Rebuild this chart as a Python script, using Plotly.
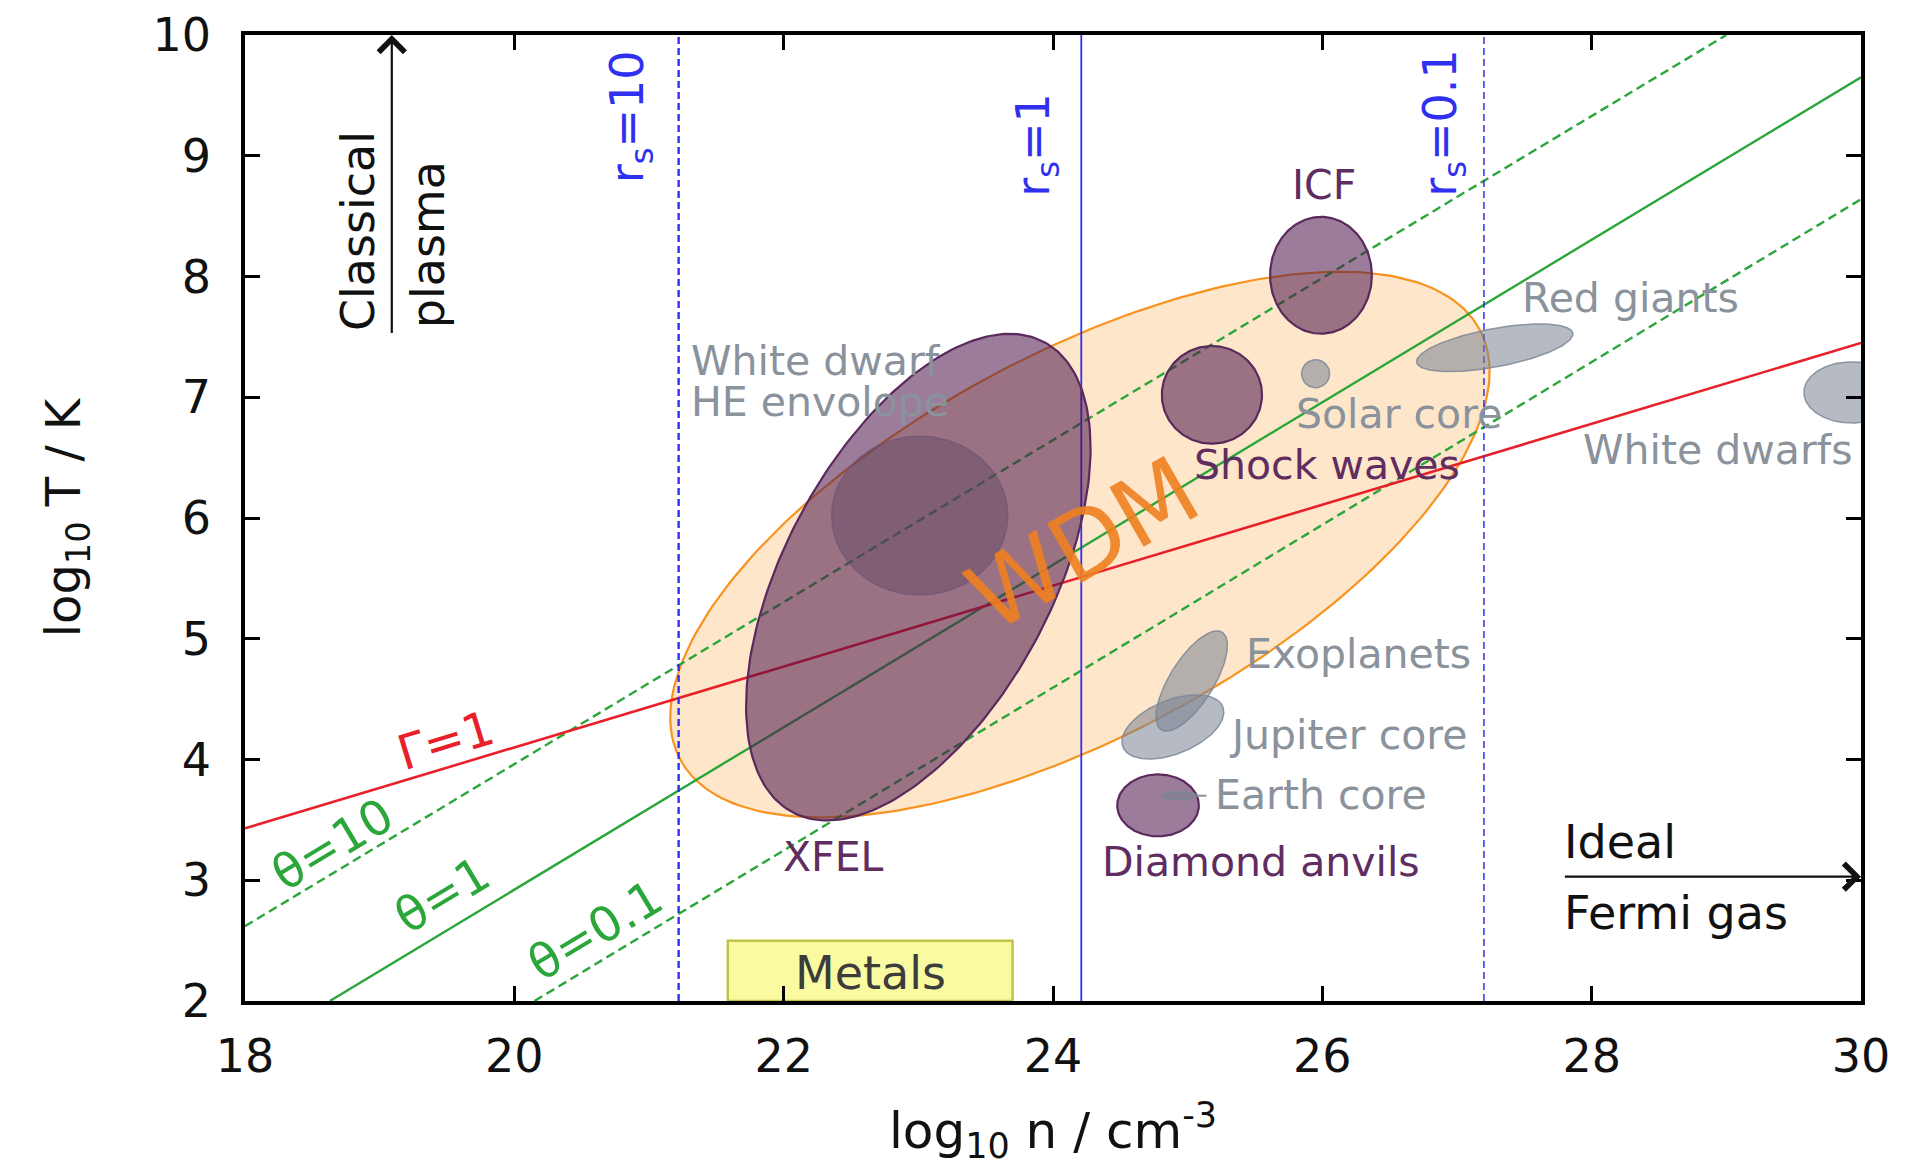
import numpy as np
import plotly.graph_objects as go

# ---------------- data ----------------
x_ticks = [18, 20, 22, 24, 26, 28, 30]
y_ticks = [2, 3, 4, 5, 6, 7, 8, 9, 10]

# straight reference lines (end points in log10 n, log10 T)
gamma1_n = [18.0, 30.0]
gamma1_T = [3.43, 7.45]
theta10_n = [18.0, 29.0]
theta10_T = [2.62, 10.0]
theta1_n = [18.63, 30.0]
theta1_T = [2.0, 9.65]
theta01_n = [20.15, 30.0]
theta01_T = [2.0, 8.64]

# Wigner-Seitz radius lines
rs_labels = ["10", "1", "0.1"]
rs_n = [21.22, 24.21, 27.20]

# regions (ellipses): centre, semi-axes (in x-axis units, screen-true), tilt (deg)
region_names = ["WDM", "XFEL", "White dwarf HE envelope", "Shock waves", "ICF",
                "Solar core", "Red giants", "White dwarfs", "Exoplanets",
                "Jupiter core", "Diamond anvils", "Earth core"]
region_n = [24.20, 23.00, 23.01, 25.18, 25.99, 25.95, 27.28, 29.93, 25.03, 24.89, 24.78, 24.94]
region_T = [5.78, 5.51, 6.02, 7.02, 8.01, 7.195, 7.41, 7.04, 4.65, 4.27, 3.62, 3.70]
region_a = [3.37, 1.98, 0.654, 0.372, 0.378, 0.104, 0.59, 0.354, 0.427, 0.40, 0.303, 0.13]
region_b = [1.415, 0.99, 0.59, 0.363, 0.434, 0.104, 0.142, 0.227, 0.163, 0.20, 0.23, 0.03]
region_tilt = [28.3, 61.8, 0, 0, 0, 0, 10.6, 0, 58, 22, 0, 0]
region_kind = ["wdm", "exp", "wdhe", "exp", "exp", "astro", "astro", "astro",
               "astro", "astro", "exp", "astro"]

# Metals box
metals_n = [21.585, 23.70]
metals_T = [2.0, 2.5]

# text labels
label_text = ["ICF", "Red giants", "Solar core", "Shock waves", "White dwarfs",
              "Exoplanets", "Jupiter core", "Earth core", "Diamond anvils", "XFEL",
              "White dwarf", "HE envolope"]
label_n = [26.01, 27.47, 25.79, 25.03, 27.92, 25.42, 25.29, 25.19, 24.35, 21.98, 21.295, 21.295]
label_T = [8.76, 7.82, 6.86, 6.44, 6.56, 4.87, 4.20, 3.71, 3.15, 3.19, 7.30, 6.96]
label_kind = ["exp", "astro", "astro", "exp", "astro", "astro", "astro", "astro",
              "exp", "exp", "astro", "astro"]

# ---------------- layout geometry ----------------
W, H = 1916, 1174
ML, MR, MT, MB = 237, 63, 27, 181
PX_X = (W - ML - MR) / (x_ticks[-1] - x_ticks[0])
PX_Y = (H - MT - MB) / (y_ticks[-1] - y_ticks[0])
FONT = "DejaVu Sans"

STYLE = {
    "wdm": dict(fill="rgba(252,200,140,0.45)", line="#f7931e", lw=2.2),
    "exp": dict(fill="rgba(73,19,73,0.55)", line="#5a2a5c", lw=2.2),
    "wdhe": dict(fill="rgba(95,70,95,0.45)", line="rgba(110,80,120,0.6)", lw=1.5),
    "astro": dict(fill="rgba(120,130,145,0.55)", line="rgba(125,135,150,0.85)", lw=1.5),
}
TXT = {"exp": "#5f2d5f", "astro": "#8a929c"}


def ellipse(cx, cy, a, b, tilt, npts=241):
    t = np.linspace(0, 2 * np.pi, npts)
    ph = np.radians(tilt)
    dx = a * np.cos(t) * np.cos(ph) - b * np.sin(t) * np.sin(ph)
    dy = a * np.cos(t) * np.sin(ph) + b * np.sin(t) * np.cos(ph)
    return cx + dx, cy + dy * PX_X / PX_Y


fig = go.Figure()


def add_region(i):
    st = STYLE[region_kind[i]]
    ex, ey = ellipse(region_n[i], region_T[i], region_a[i], region_b[i], region_tilt[i])
    fig.add_trace(go.Scatter(x=ex, y=ey, mode="lines", fill="toself",
                             fillcolor=st["fill"], line=dict(color=st["line"], width=st["lw"]),
                             hoverinfo="skip", showlegend=False, name=region_names[i]))


# WDM first (under the lines)
add_region(0)

# Metals box
fig.add_trace(go.Scatter(x=[metals_n[0], metals_n[1], metals_n[1], metals_n[0], metals_n[0]],
                         y=[metals_T[0], metals_T[0], metals_T[1], metals_T[1], metals_T[0]],
                         mode="lines", fill="toself", fillcolor="#fafaa0",
                         line=dict(color="#c3c34a", width=2.5), hoverinfo="skip", showlegend=False))

# lines
GREEN = "#2aa63a"
DASH = "9px,5px"
fig.add_trace(go.Scatter(x=theta10_n, y=theta10_T, mode="lines",
                         line=dict(color=GREEN, width=2.4, dash=DASH), showlegend=False))
fig.add_trace(go.Scatter(x=theta1_n, y=theta1_T, mode="lines",
                         line=dict(color=GREEN, width=2.4), showlegend=False))
fig.add_trace(go.Scatter(x=theta01_n, y=theta01_T, mode="lines",
                         line=dict(color=GREEN, width=2.4, dash=DASH), showlegend=False))
fig.add_trace(go.Scatter(x=gamma1_n, y=gamma1_T, mode="lines",
                         line=dict(color="#e8202a", width=2.6), showlegend=False))

rs_style = [dict(dash="7px,4px", width=2.4), dict(dash="solid", width=1.8), dict(dash="7px,4px", width=1.5)]
for xv, st in zip(rs_n, rs_style):
    fig.add_trace(go.Scatter(x=[xv, xv], y=[y_ticks[0], y_ticks[-1]], mode="lines",
                             line=dict(color="#3030f0", **st), showlegend=False))

# other regions on top
for i in range(1, len(region_names)):
    add_region(i)

# Earth core pointer
ie = region_names.index("Earth core")
fig.add_trace(go.Scatter(x=[region_n[ie] + region_a[ie], label_n[label_text.index("Earth core")] - 0.05],
                         y=[region_T[ie], region_T[ie]], mode="lines",
                         line=dict(color="#8a929c", width=2), showlegend=False))

ann = []
# region labels
for t, xv, yv, k in zip(label_text, label_n, label_T, label_kind):
    ann.append(dict(x=xv, y=yv, text=t, showarrow=False, xanchor="center" if t == "ICF" else "left",
                    yanchor="middle", font=dict(family=FONT, size=41, color=TXT[k])))

ann.append(dict(x=(metals_n[0] + metals_n[1]) / 2, y=2.23, text="Metals", showarrow=False,
                font=dict(family=FONT, size=46, color="#3c3c3c")))

# WDM
ann.append(dict(x=region_n[0] + 0.02, y=region_T[0], text="WDM", showarrow=False, textangle=-30,
                font=dict(family=FONT, size=94, color="rgba(238,128,32,0.9)")))

# rs labels
for lab, xv, yv in zip(rs_labels, [20.86, 23.88, 26.90], [9.32, 9.09, 9.27]):
    ann.append(dict(x=xv, y=yv, text="r<sub>s</sub>=" + lab, showarrow=False, textangle=-90,
                    font=dict(family=FONT, size=46, color="#3030f0")))

# line labels
for t, xv, yv, ang, col in [("Γ=1", 19.49, 4.16, -17, "#e8202a"),
                            ("θ=10", 18.65, 3.30, -31, GREEN),
                            ("θ=1", 19.46, 2.88, -31, GREEN),
                            ("θ=0.1", 20.60, 2.59, -31, GREEN)]:
    ann.append(dict(x=xv, y=yv, text=t, showarrow=False, textangle=ang,
                    font=dict(family=FONT, size=48, color=col)))

# classical plasma / ideal Fermi gas
ann.append(dict(x=18.835, y=8.38, text="Classical", showarrow=False, textangle=-90,
                font=dict(family=FONT, size=46, color="#111111")))
ann.append(dict(x=19.36, y=8.26, text="plasma", showarrow=False, textangle=-90,
                font=dict(family=FONT, size=46, color="#111111")))
ann.append(dict(x=19.09, y=10.0, ax=19.09, ay=7.52, axref="x", ayref="y", text="",
                showarrow=True, arrowhead=4, arrowsize=2.3, arrowwidth=2.2, arrowcolor="#111111"))
ann.append(dict(x=27.78, y=3.32, text="Ideal", showarrow=False, xanchor="left",
                font=dict(family=FONT, size=46, color="#111111")))
ann.append(dict(x=27.78, y=2.73, text="Fermi gas", showarrow=False, xanchor="left",
                font=dict(family=FONT, size=46, color="#111111")))
ann.append(dict(x=30.0, y=3.03, ax=27.79, ay=3.03, axref="x", ayref="y", text="",
                showarrow=True, arrowhead=4, arrowsize=2.3, arrowwidth=2.2, arrowcolor="#111111"))

axis_common = dict(showline=True, linewidth=3.5, linecolor="black", mirror="ticks",
                   ticks="inside", ticklen=15, tickwidth=2.5, tickcolor="black",
                   showgrid=False, zeroline=False, fixedrange=True,
                   tickfont=dict(family=FONT, size=46, color="#111111"))

fig.update_layout(
    width=W, height=H, margin=dict(l=ML, r=MR, t=MT, b=MB, autoexpand=False),
    paper_bgcolor="white", plot_bgcolor="white", showlegend=False,
    xaxis=dict(range=[x_ticks[0], x_ticks[-1]], tickvals=x_ticks, ticklabelstandoff=12,
               title=dict(text="log<sub>10</sub> n / cm<sup>-3</sup>", standoff=32,
                          font=dict(family=FONT, size=50, color="#111111")), **axis_common),
    yaxis=dict(range=[y_ticks[0], y_ticks[-1]], tickvals=y_ticks, ticklabelstandoff=21,
               title=dict(text="log<sub>10</sub> T / K", standoff=58,
                          font=dict(family=FONT, size=48, color="#111111")), **axis_common),
    annotations=ann,
)

fig.write_html("out.html")
